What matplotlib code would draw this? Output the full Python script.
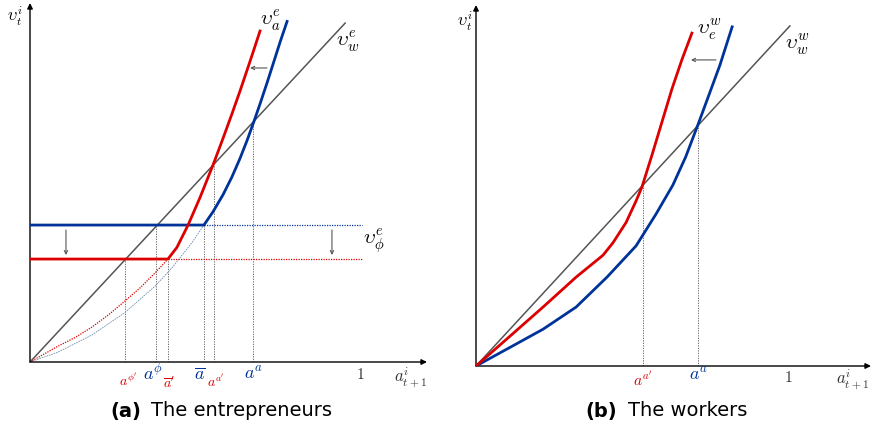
import matplotlib
matplotlib.use('Agg')
import matplotlib.pyplot as plt

plt.rcParams['mathtext.fontset'] = 'cm'

RED = '#dd0000'
BLUE = '#003399'
GRAY = '#555555'

# ---- panel (a): the entrepreneurs ----
gray_a_x = [0, 0.955]
gray_a_y = [0, 1.027]

# blue: flat at v_phi level, then convex part
blue_a_level = 0.415
blue_a_x = [0.527, 0.555, 0.585, 0.612, 0.636, 0.658, 0.679, 0.697, 0.718, 0.736, 0.758, 0.779]
blue_a_y = [0.415, 0.456, 0.507, 0.561, 0.616, 0.672, 0.730, 0.782, 0.845, 0.901, 0.970, 1.032]
blue_a_dot_x = [0, 0.085, 0.188, 0.288, 0.379, 0.430, 0.491, 0.527]
blue_a_dot_y = [0, 0.030, 0.082, 0.150, 0.230, 0.285, 0.362, 0.415]

# red: shifted down / left
red_a_level = 0.312
red_a_x = [0.418, 0.445, 0.479, 0.515, 0.555, 0.585, 0.612, 0.636, 0.661, 0.676, 0.697]
red_a_y = [0.312, 0.347, 0.415, 0.498, 0.598, 0.678, 0.752, 0.820, 0.894, 0.939, 1.003]
red_a_dot_x = [0, 0.085, 0.140, 0.188, 0.238, 0.288, 0.335, 0.379, 0.418]
red_a_dot_y = [0, 0.048, 0.076, 0.106, 0.143, 0.185, 0.226, 0.270, 0.312]

flat_end_a = 1.006

mark_a_x = [0.288, 0.382, 0.418, 0.527, 0.558, 0.676]
mark_a_top = [0.312, 0.415, 0.312, 0.415, 0.603, 0.730]
mark_a_lab = [r"$a^{\phi'}$", r"$a^{\phi}$", r"$\overline{a}'$", r"$\overline{a}$", r"$a^{a'}$", r"$a^{a}$"]
mark_a_col = [RED, BLUE, RED, BLUE, RED, BLUE]
mark_a_lx = [0.297, 0.374, 0.421, 0.515, 0.562, 0.676]
mark_a_ly = [-0.055, -0.036, -0.062, -0.036, -0.058, -0.037]
mark_a_fs = [10, 13, 10, 13, 10, 13]

# ---- panel (b): the workers ----
gray_b_x = [0, 1.006]
gray_b_y = [0, 1.090]

blue_b_x = [0, 0.106, 0.215, 0.321, 0.420, 0.513, 0.535, 0.577, 0.631, 0.672, 0.712, 0.750, 0.782, 0.821]
blue_b_y = [0, 0.058, 0.118, 0.189, 0.285, 0.385, 0.420, 0.487, 0.580, 0.670, 0.775, 0.878, 0.965, 1.087]

red_b_x = [0, 0.106, 0.215, 0.321, 0.407, 0.439, 0.481, 0.513, 0.532, 0.564, 0.596, 0.628, 0.660, 0.692]
red_b_y = [0, 0.093, 0.189, 0.285, 0.355, 0.395, 0.460, 0.529, 0.574, 0.676, 0.782, 0.888, 0.982, 1.067]

mark_b_x = [0.535, 0.712]
mark_b_top = [0.580, 0.771]
mark_b_lab = [r"$a^{a'}$", r"$a^{a}$"]
mark_b_col = [RED, BLUE]
mark_b_y = [-0.045, -0.032]
mark_b_fs = [11, 13]

W, H = 872, 433
fig = plt.figure(figsize=(W / 100, H / 100), dpi=100)

ax1 = fig.add_axes([30 / W, (H - 362) / H, 397 / W, 359 / H])
ax2 = fig.add_axes([476 / W, (H - 366) / H, 395 / W, 361 / H])
ax1.set_xlim(0, 397 / 330)
ax1.set_ylim(0, 359 / 330)
ax2.set_xlim(0, 395 / 312)
ax2.set_ylim(0, 361 / 312)

arr = dict(arrowstyle='-|>', lw=1.0, color='black', shrinkA=0, shrinkB=0, mutation_scale=8)
small = dict(arrowstyle='->', lw=0.8, color=GRAY, shrinkA=0, shrinkB=0, mutation_scale=6)

for ax in (ax1, ax2):
    ax.axis('off')
    ax.annotate('', xy=(1, 0), xytext=(0, 0), xycoords='axes fraction', arrowprops=arr)
    ax.annotate('', xy=(0, 1), xytext=(0, 0), xycoords='axes fraction', arrowprops=arr)

# panel a
for x, t in zip(mark_a_x, mark_a_top):
    ax1.plot([x, x], [0, t], color=GRAY, lw=0.6, ls=(0, (1.5, 1.5)), zorder=1)
ax1.plot(gray_a_x, gray_a_y, color=GRAY, lw=1.1, zorder=2)
ax1.plot(red_a_dot_x, red_a_dot_y, color=RED, lw=0.9, ls=(0, (1, 1)), zorder=2)
ax1.plot(blue_a_dot_x, blue_a_dot_y, color='#7090b0', lw=0.6, ls=(0, (2, 1)), zorder=2)
ax1.plot([blue_a_x[0], flat_end_a], [blue_a_level] * 2, color=BLUE, lw=0.9, ls=(0, (1, 1)), zorder=2)
ax1.plot([red_a_x[0], flat_end_a], [red_a_level] * 2, color=RED, lw=0.9, ls=(0, (1, 1)), zorder=2)
ax1.plot([0] + blue_a_x, [blue_a_level] + blue_a_y, color=BLUE, lw=2.0, zorder=3, solid_joinstyle='round')
ax1.plot([0] + red_a_x, [red_a_level] + red_a_y, color=RED, lw=2.0, zorder=4, solid_joinstyle='round')

ax1.annotate('', xy=(0.109, 0.324), xytext=(0.109, 0.400), arrowprops=small)
ax1.annotate('', xy=(0.915, 0.324), xytext=(0.915, 0.400), arrowprops=small)
ax1.annotate('', xy=(0.667, 0.891), xytext=(0.718, 0.891), arrowprops=small)

for x, y, s, c, fs in zip(mark_a_lx, mark_a_ly, mark_a_lab, mark_a_col, mark_a_fs):
    ax1.text(x, y, s, color=c, fontsize=fs, ha='center', va='center', clip_on=False)
ax1.text(0.727, 1.036, r'$\upsilon_a^e$', fontsize=15, ha='center', va='center')
ax1.text(0.964, 0.970, r'$\upsilon_w^e$', fontsize=15, ha='center', va='center')
ax1.text(1.042, 0.364, r'$\upsilon_\phi^e$', fontsize=15, ha='center', va='center')
ax1.text(-0.045, 1.048, r'$\upsilon_t^i$', fontsize=12, ha='center', va='center', clip_on=False)
ax1.text(1.0, -0.039, r'$1$', fontsize=11, color='#333333', ha='center', va='center', clip_on=False)
ax1.text(1.152, -0.048, r'$a_{t+1}^i$', fontsize=12, color='#333333', ha='center', va='center', clip_on=False)

# panel b
for x, t in zip(mark_b_x, mark_b_top):
    ax2.plot([x, x], [0, t], color=GRAY, lw=0.6, ls=(0, (1.5, 1.5)), zorder=1)
ax2.plot(gray_b_x, gray_b_y, color=GRAY, lw=1.1, zorder=2)
ax2.plot(blue_b_x, blue_b_y, color=BLUE, lw=2.0, zorder=3, solid_joinstyle='round')
ax2.plot(red_b_x, red_b_y, color=RED, lw=2.0, zorder=4, solid_joinstyle='round')
ax2.annotate('', xy=(0.689, 0.981), xytext=(0.769, 0.981), arrowprops=small)

for x, y, s, c, fs in zip(mark_b_x, mark_b_y, mark_b_lab, mark_b_col, mark_b_fs):
    ax2.text(x, y, s, color=c, fontsize=fs, ha='center', va='center', clip_on=False)
ax2.text(0.747, 1.080, r'$\upsilon_e^w$', fontsize=15, ha='center', va='center')
ax2.text(1.029, 1.029, r'$\upsilon_w^w$', fontsize=15, ha='center', va='center')
ax2.text(-0.035, 1.105, r'$\upsilon_t^i$', fontsize=12, ha='center', va='center', clip_on=False)
ax2.text(1.0, -0.038, r'$1$', fontsize=11, color='#333333', ha='center', va='center', clip_on=False)
ax2.text(1.208, -0.045, r'$a_{t+1}^i$', fontsize=12, color='#333333', ha='center', va='center', clip_on=False)

# captions: bold label + plain text
cy = 1 - 411 / H
fig.text(110 / W, cy, '(a)', fontsize=14, fontweight='bold', ha='left', va='center')
fig.text(151 / W, cy, 'The entrepreneurs', fontsize=14, ha='left', va='center')
fig.text(585 / W, cy, '(b)', fontsize=14, fontweight='bold', ha='left', va='center')
fig.text(628 / W, cy, 'The workers', fontsize=14, ha='left', va='center')

fig.savefig('out.png', dpi=100)
